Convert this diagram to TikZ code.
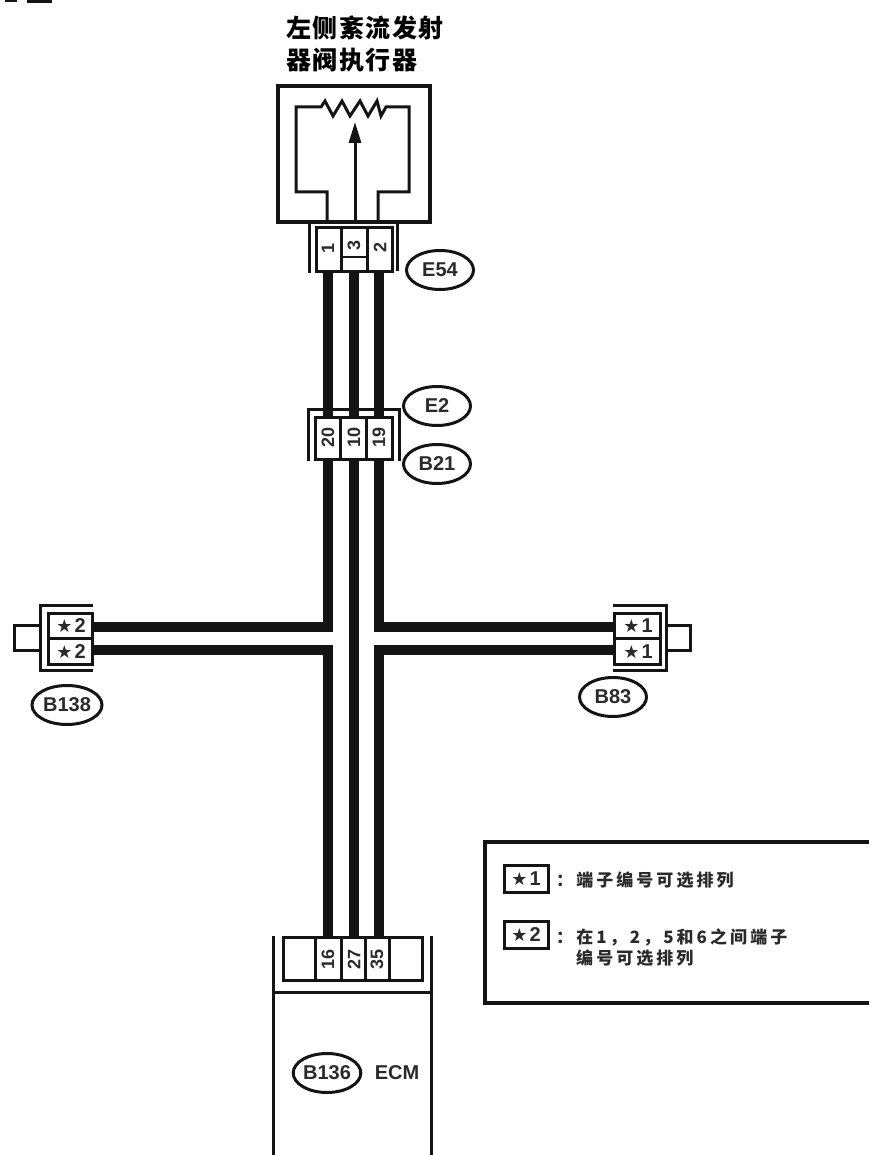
\documentclass[tikz,border=0pt]{standalone}
\usepackage{fontspec}
\usepackage{graphicx}
\setmainfont{Liberation Sans}
\newfontfamily\symfont{DejaVu Sans}
\newfontfamily\cjktitle[LetterSpace=6]{Noto Sans CJK SC}
\newfontfamily\cjknote[LetterSpace=18]{Noto Sans CJK SC}
\usetikzlibrary{arrows.meta,shapes.geometric}
\definecolor{ink}{HTML}{141414}
\definecolor{soft}{HTML}{2A2A2A}
\newcommand{\fsz}[1]{\fontsize{#1}{#1}\selectfont}
\newcommand{\starlab}[1]{{\symfont\fsz{18}★}\kern2pt{\bfseries\fsz{20}#1}}
\newcommand{\cellbox}[6][]{%
  \pgfmathsetmacro{\cbw}{#5-#3}\pgfmathsetmacro{\cbh}{#6-#4}%
  \pgfmathsetmacro{\cbx}{(#3+#5)/2}\pgfmathsetmacro{\cby}{(#4+#6)/2}%
  \node[cellstyle,minimum width=\cbw pt,minimum height=\cbh pt,#1] (#2) at (\cbx,\cby) {};}
\tikzset{
  cellstyle/.style={draw=ink,fill=white,line width=3pt,inner sep=0pt,outer sep=0pt},
  outline/.style={draw=ink,line width=3.4pt,line join=miter},
  thin line/.style={draw=ink,line width=3pt},
  wire/.style={draw=ink,line width=10pt,line join=miter,line cap=butt},
  tag/.style={draw=ink,line width=3pt,ellipse,minimum width=67pt,minimum height=39pt,inner sep=0pt,text=soft,font=\bfseries\fsz{20}},
  pinlab/.style={inner sep=0pt,text=soft,font=\bfseries\fsz{18}},
  starcell/.style={inner sep=0pt,text=soft},
  notetext/.style={anchor=west,inner sep=0pt,text=soft},
}
\begin{document}
\begin{tikzpicture}[x=1pt,y=-1pt]
\useasboundingbox (0,0) rectangle (869,1155);
% cropped heading fragments
\fill[ink] (5,0) rectangle (17,2);
\fill[ink] (27,0) rectangle (52,3);
% title
\node[anchor=west,inner sep=0pt] (titleA) at (286,28) {\cjktitle\bfseries\fsz{25}左侧紊流发射};
\node[anchor=west,inner sep=0pt] (titleB) at (286,60) {\cjktitle\bfseries\fsz{25}器阀执行器};
% actuator
\node[outline,inner sep=0pt,outer sep=0pt,minimum width=152pt,minimum height=136pt] (act) at (354,154) {};
\draw[thin line] (327,222) -- (327,192) -- (296,192) -- (296,107) -- (321,107)
  -- (325,101) -- (333,116) -- (342,101) -- (350,116) -- (360,101) -- (368,116) -- (377,101) -- (381,116) -- (386,107)
  -- (409,107) -- (409,192) -- (378,192) -- (378,222);
\coordinate (wiper) at (355,122);
\draw[thin line,-{Triangle[length=21pt,width=12pt]}] (355,222) -- (wiper);
% wire end points
\coordinate (lwa) at (92,627);
\coordinate (lwb) at (92,650);
\coordinate (rwa) at (614,627);
\coordinate (rwb) at (614,650);
\coordinate (ea w) at (328,272);
\coordinate (eb w) at (354,272);
\coordinate (ec w) at (379,272);
\coordinate (da n) at (328,417);
\coordinate (db n) at (354,417);
\coordinate (dc n) at (379,417);
\coordinate (da s) at (328,459);
\coordinate (db s) at (354,459);
\coordinate (dc s) at (379,459);
\coordinate (mb n) at (328,937);
\coordinate (mc n) at (354,937);
\coordinate (md n) at (379,937);
\draw[wire] (ea w) -- (da n);
\draw[wire] (eb w) -- (db n);
\draw[wire] (ec w) -- (dc n);
\draw[wire] (db s) -- (mc n);
\draw[wire] (da s) |- (lwa);
\draw[wire] (mb n) |- (lwb);
\draw[wire] (dc s) |- (rwa);
\draw[wire] (md n) |- (rwb);
% cells above wires
\cellbox{ea}{316}{228}{341}{272}
\cellbox{eb}{341}{228}{367}{272}
\cellbox{ec}{367}{228}{392}{272}
\cellbox{da}{315}{417}{340}{459}
\cellbox{db}{340}{417}{366}{459}
\cellbox{dc}{366}{417}{392}{459}
\cellbox{ma}{283}{937}{315}{980}
\cellbox{mb}{315}{937}{341}{980}
\cellbox{mc}{341}{937}{365}{980}
\cellbox{md}{365}{937}{389}{980}
\cellbox{me}{389}{937}{422}{980}
\cellbox{la}{48}{613}{92}{638}
\cellbox{lb}{48}{638}{92}{664}
\cellbox{ra}{614}{613}{660}{638}
\cellbox{rb}{614}{638}{660}{664}
% E54 connector
\draw[thin line] (309,222) -- (309,273);
\draw[thin line] (397,222) -- (397,271);
\draw[draw=ink,line width=1.6pt] (341,257) -- (367,257);
\node[pinlab] (pa) at (328,248) {\rotatebox{90}{1}};
\node[pinlab] (pb) at (354,245) {\rotatebox{90}{3}};
\node[pinlab] (pc) at (380,247) {\rotatebox{90}{2}};
\node[tag] (E54) at (440,270) {E54};
% E2 / B21 connector
\draw[thin line] (308,461) -- (308,409) -- (399,409) -- (399,461);
\node[pinlab] (qa) at (328,437) {\rotatebox{90}{20}};
\node[pinlab] (qb) at (354,437) {\rotatebox{90}{10}};
\node[pinlab] (qc) at (379,437) {\rotatebox{90}{19}};
\node[tag] (E2) at (437,406) {E2};
\node[tag] (B21) at (437,464) {B21};
% left connector
\draw[thin line] (93,605) -- (40,605) -- (40,670) -- (93,670);
\draw[thin line] (40,625) -- (14,625) -- (14,650) -- (40,650);
\node[starcell] (lsa) at (71,626) {\starlab{2}};
\node[starcell] (lsb) at (71,652) {\starlab{2}};
\node[tag,minimum width=70pt] (B138) at (67,705) {B138};
% right connector
\draw[thin line] (613,605) -- (666,605) -- (666,670) -- (613,670);
\draw[thin line] (666,625) -- (690,625) -- (690,650) -- (666,650);
\node[starcell] (rsa) at (638,626) {\starlab{1}};
\node[starcell] (rsb) at (638,652) {\starlab{1}};
\node[tag] (B83) at (613,697) {B83};
% ECM
\draw[thin line] (273,936) -- (273,1155);
\draw[thin line] (431,936) -- (431,1155);
\draw[thin line] (273,992) -- (431,992);
\node[pinlab] (ra1) at (328,959) {\rotatebox{90}{16}};
\node[pinlab] (ra2) at (354,959) {\rotatebox{90}{27}};
\node[pinlab] (ra3) at (377,959) {\rotatebox{90}{35}};
\node[tag] (B136) at (327,1073) {B136};
\node[inner sep=0pt,text=soft,font=\bfseries\fsz{20}] (ecm) at (397,1073) {ECM};
% note
\draw[outline] (869,842) -- (485,842) -- (485,1003) -- (869,1003);
\node[draw=ink,line width=3pt,inner sep=0pt,minimum width=44pt,minimum height=27pt,text=soft] (keyA) at (526,879) {\starlab{1}};
\node[draw=ink,line width=3pt,inner sep=0pt,minimum width=44pt,minimum height=27pt,text=soft] (keyB) at (526,935) {\starlab{2}};
\node[notetext] (noteA) at (556,880) {\cjknote\bfseries\fsz{17}：端子编号可选排列};
\node[notetext] (noteB) at (556,937) {\cjknote\bfseries\fsz{17}：在1，2，5和6之间端子};
\node[notetext] (noteC) at (576,958) {\cjknote\bfseries\fsz{17}编号可选排列};
\end{tikzpicture}
\end{document}
